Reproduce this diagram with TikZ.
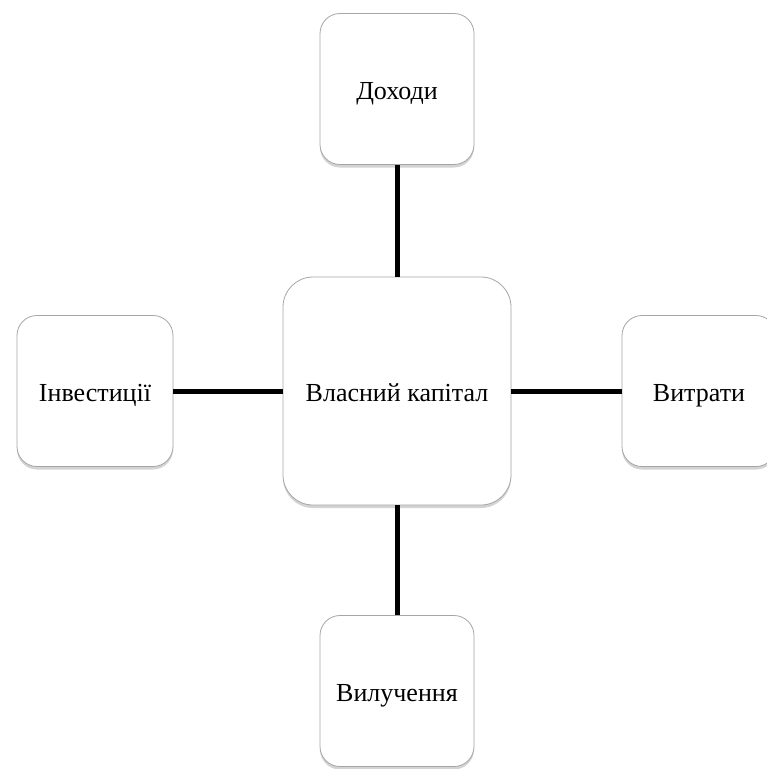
\documentclass[tikz,border=0pt]{standalone}
\usepackage{fontspec}
\setmainfont{Liberation Serif}
\usetikzlibrary{shadows}
\tikzset{
  box/.style={draw=gray!70, line width=0.8pt, fill=white, rounded corners=20pt,
    minimum width=154pt, minimum height=151pt, inner sep=0pt,
    text height=20pt, text depth=0pt,
    font=\fontsize{26}{31}\selectfont,
    drop shadow={shadow xshift=0pt, shadow yshift=-3pt, opacity=0.35, fill=gray}},
  bigbox/.style={box, rounded corners=30pt, minimum width=228pt, minimum height=228pt},
  link/.style={line width=5pt, black}
}
\begin{document}
\begin{tikzpicture}[x=1pt,y=1pt]
\useasboundingbox (0,0) rectangle (767,-769);
\node[bigbox] (c) at (397,-391) {Власний капітал};
\node[box] (t) at (397,-89) {Доходи};
\node[box, minimum width=156pt] (l) at (95,-391) {Інвестиції};
\node[box] (r) at (699,-391) {Витрати};
\node[box] (b) at (397,-691) {Вилучення};
\draw[link] (c.north) -- (t.south);
\draw[link] (c.south) -- (b.north);
\draw[link] (c.west) -- (l.east);
\draw[link] (c.east) -- (r.west);
\end{tikzpicture}
\end{document}
